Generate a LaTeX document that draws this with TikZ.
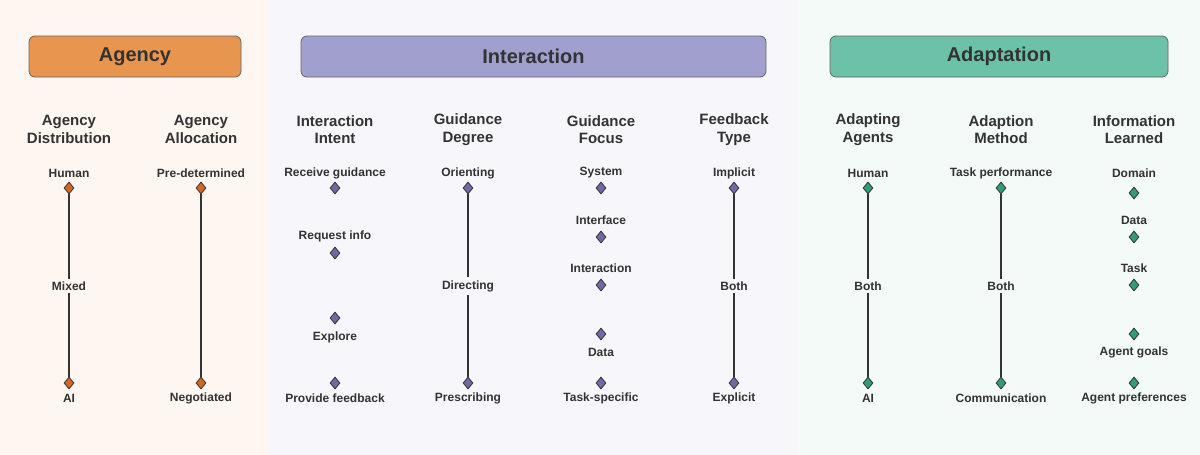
\documentclass[tikz,border=0pt]{standalone}
\usepackage{fontspec}
\setmainfont{Liberation Sans}
\usetikzlibrary{shapes.geometric}
\definecolor{bgA}{HTML}{FDF6F1}
\definecolor{bgB}{HTML}{F6F6FB}
\definecolor{bgC}{HTML}{F3FAF7}
\definecolor{hA}{HTML}{E8954F}
\definecolor{hB}{HTML}{A19FCD}
\definecolor{hC}{HTML}{6BC2A8}
\definecolor{dA}{HTML}{D9661F}
\definecolor{dB}{HTML}{6E6AA8}
\definecolor{dC}{HTML}{2E9E7A}
\definecolor{txt}{HTML}{333333}
\tikzset{
 hdr/.style={draw=gray!80!black,line width=0.8pt,rounded corners=6pt,minimum height=41pt,text=txt,font=\bfseries\fontsize{20}{24}\selectfont},
 coltitle/.style={align=center,text=txt,font=\bfseries\fontsize{15}{17.5}\selectfont},
 lab/.style={text=txt,font=\bfseries\fontsize{12}{14}\selectfont,inner sep=1pt},
 dia/.style={diamond,draw=txt,line width=0.8pt,inner sep=0pt,minimum width=10pt,minimum height=12pt,fill=#1},
 axis/.style={draw=txt,line width=1.6pt}
}
\begin{document}
\begin{tikzpicture}[x=1pt,y=-1pt]
\useasboundingbox (0,0) rectangle (1200,455);
\fill[bgA] (0,0) rectangle (268,455);
\fill[bgB] (268,0) rectangle (798,455);
\fill[bgC] (798,0) rectangle (1200,455);
\node[hdr,fill=hA,minimum width=212pt] (hA) at (135,56.5) {Agency};
\node[hdr,fill=hB,minimum width=465pt] (hB) at (533.5,56.5) {Interaction};
\node[hdr,fill=hC,minimum width=338pt] (hC) at (999,56.5) {Adaptation};
% column titles
\foreach \x/\t [count=\i] in {69/Agency\\Distribution,201/Agency\\Allocation,335/Interaction\\Intent,468/Guidance\\Degree,601/Guidance\\Focus,734/Feedback\\Type,868/Adapting\\Agents,1001/Adaption\\Method,1134/Information\\Learned}
  \node[coltitle] (t\i) at (\x,129.5) {\t};
% scale columns with lines
\foreach \x/\a/\m/\b/\c/\n in {69/Human/Mixed/AI/dA/c1,201/Pre-determined//Negotiated/dA/c2,468/Orienting/Directing/Prescribing/dB/c4,734/Implicit/Both/Explicit/dB/c6,868/Human/Both/AI/dC/c7,1001/Task performance/Both/Communication/dC/c8}{
  \node[lab] (\n la) at (\x,173) {\a};
  \node[lab] (\n lb) at (\x,398) {\b};
  \node[dia=\c] (\n da) at (\x,188) {};
  \node[dia=\c] (\n db) at (\x,383) {};
  \draw[axis] (\n da) -- (\n db);
}
\foreach \x/\m/\c/\n in {69/Mixed/bgA/c1,468/Directing/bgB/c4,734/Both/bgB/c6,868/Both/bgC/c7,1001/Both/bgC/c8}
  \node[lab,fill=\c,inner sep=3pt] (\n m) at (\x,286) {\m};
% Interaction intent
\node[lab] (i1) at (335,173) {Receive guidance};
\node[dia=dB] (d1) at (335,188) {};
\node[lab] (i2) at (335,236) {Request info};
\node[dia=dB] (d2) at (335,253) {};
\node[dia=dB] (d3) at (335,318) {};
\node[lab] (i3) at (335,337) {Explore};
\node[lab] (i4) at (335,398) {Provide feedback};
\node[dia=dB] (d4) at (335,383) {};
% Guidance focus
\node[lab] (f1) at (601,173) {System};
\node[dia=dB] (g1) at (601,188) {};
\node[lab] (f2) at (601,220) {Interface};
\node[dia=dB] (g2) at (601,237) {};
\node[lab] (f3) at (601,268) {Interaction};
\node[dia=dB] (g3) at (601,285) {};
\node[dia=dB] (g4) at (601,334) {};
\node[lab] (f4) at (601,352) {Data};
\node[dia=dB] (g5) at (601,383) {};
\node[lab] (f5) at (601,398) {Task-specific};
% Information learned
\node[lab] (l1) at (1134,173) {Domain};
\node[dia=dC] (e1) at (1134,193) {};
\node[lab] (l2) at (1134,220) {Data};
\node[dia=dC] (e2) at (1134,237) {};
\node[lab] (l3) at (1134,268) {Task};
\node[dia=dC] (e3) at (1134,285) {};
\node[dia=dC] (e4) at (1134,334) {};
\node[lab] (l4) at (1134,352) {Agent goals};
\node[dia=dC] (e5) at (1134,383) {};
\node[lab] (l5) at (1134,398) {Agent preferences};
\end{tikzpicture}
\end{document}
